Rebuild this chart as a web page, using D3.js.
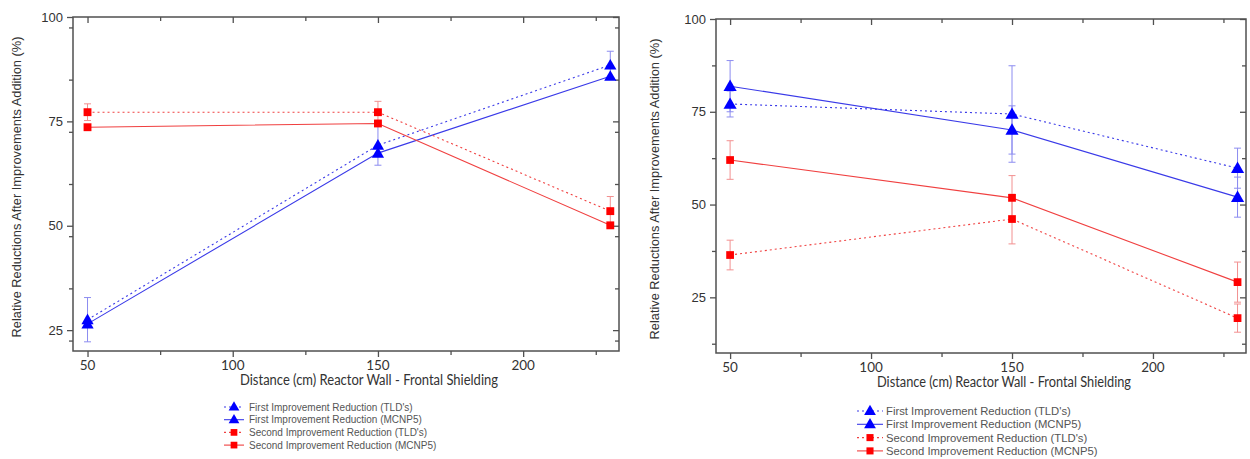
<!DOCTYPE html>
<html><head><meta charset="utf-8">
<script src="https://cdn.jsdelivr.net/npm/d3@7"></script>
<style>body{margin:0;background:#fff}svg{display:block}</style>
</head><body>
<svg id="c" width="1250" height="459"></svg>
<script>
// ---- data ----
const distances = [50, 150, 230];
const xTicks = [50, 100, 150, 200];
const seriesNames = ["First Improvement Reduction (TLD's)", "First Improvement Reduction (MCNP5)", "Second Improvement Reduction (TLD's)", "Second Improvement Reduction (MCNP5)"];
const yTitle = "Relative Reductions After Improvements Addition (%)";
const xTitle = "Distance (cm) Reactor Wall - Frontal Shielding";

// left chart
const leftFirstTLD = [27.5, 69.3, 88.5];
const leftFirstTLDErr = [5.3, 4.8, 3.3];
const leftFirstMCNP = [26.5, 67.4, 85.8];
const leftSecondTLD = [77.2, 77.2, 53.5];
const leftSecondTLDErr = [2.0, 2.6, 3.5];
const leftSecondMCNP = [73.6, 74.5, 50.1];
const leftYTicks = [25, 50, 75, 100];

// right chart
const rightFirstTLD = [77.1, 74.4, 59.8];
const rightFirstTLDErr = [3.5, 13.0, 5.4];
const rightFirstMCNP = [81.9, 70.1, 52.0];
const rightFirstMCNPErr = [6.9, 6.5, 5.4];
const rightSecondTLD = [36.4, 46.1, 19.4];
const rightSecondTLDErr = [4.0, 6.7, 3.8];
const rightSecondMCNP = [62.0, 51.8, 29.1];
const rightSecondMCNPErr = [5.2, 6.0, 5.4];
const rightYTicks = [25, 50, 75, 100];

const svg = d3.select("#c");
const BLUE = "#0000ff", RED = "#ff0000";

function drawChart(o) {
  const g = svg.append("g");
  const x = d3.scaleLinear().domain([45, 233]).range([o.x0, o.x1]);
  const y = d3.scaleLinear().domain(o.yDom).range([o.y1, o.y0]);
  const axCol = "#505050";
  g.append("rect").attr("x", o.x0).attr("y", o.y0).attr("width", o.x1 - o.x0).attr("height", o.y1 - o.y0)
    .attr("fill", "none").attr("stroke", axCol).attr("stroke-width", 1.5);
  const xMinor = [75, 125, 175, 225];
  const yMinor = d3.range(o.yDom[0] + 2.5, 100, 12.5).filter(v => v % 25 !== 0);
  const styl = s => { s.select(".domain").remove(); s.selectAll("line").attr("stroke", axCol).attr("stroke-width", 1.3); };
  g.append("g").attr("transform", `translate(0,${o.y1})`).call(d3.axisBottom(x).tickValues(xTicks).tickSize(6).tickFormat("")).call(styl);
  g.append("g").attr("transform", `translate(0,${o.y1})`).call(d3.axisBottom(x).tickValues(xMinor).tickSize(4).tickFormat("")).call(styl);
  g.append("g").attr("transform", `translate(0,${o.y0})`).call(d3.axisBottom(x).tickValues(xTicks).tickSize(6).tickFormat("")).call(styl);
  g.append("g").attr("transform", `translate(0,${o.y0})`).call(d3.axisBottom(x).tickValues(xMinor).tickSize(4).tickFormat("")).call(styl);
  g.selectAll(".xl").data(xTicks).join("text").attr("x", d => x(d)).attr("y", o.y1 + 19)
    .attr("text-anchor", "middle").attr("font-family", "Lato, 'Open Sans', sans-serif").attr("font-size", 13.5).attr("fill", "#333").text(d => d);
  g.append("g").attr("transform", `translate(${o.x0},0)`).call(d3.axisLeft(y).tickValues(o.yTicks).tickSize(6).tickFormat("")).call(styl);
  g.append("g").attr("transform", `translate(${o.x0},0)`).call(d3.axisLeft(y).tickValues(yMinor).tickSize(4).tickFormat("")).call(styl);
  g.append("g").attr("transform", `translate(${o.x1},0)`).call(d3.axisLeft(y).tickValues(o.yTicks).tickSize(6).tickFormat("")).call(styl);
  g.append("g").attr("transform", `translate(${o.x1},0)`).call(d3.axisLeft(y).tickValues(yMinor).tickSize(4).tickFormat("")).call(styl);
  g.selectAll(".yl").data(o.yTicks).join("text").attr("x", o.x0 - 10).attr("y", d => y(d) + 4.5)
    .attr("text-anchor", "end").attr("font-family", "'Liberation Sans', Arial, sans-serif").attr("font-size", 13).attr("fill", "#333").text(d => d);
  g.append("text").attr("transform", `translate(${o.yTitleX},${(o.y0 + o.y1) / 2 + 3}) rotate(-90)`)
    .attr("text-anchor", "middle").attr("font-family", "'Liberation Sans', Arial, sans-serif").attr("font-size", 12.8).attr("fill", "#333").text(yTitle);
  g.append("text").attr("x", o.xTitleX).attr("y", o.y1 + 34).attr("text-anchor", "middle")
    .attr("font-family", "Lato, 'Open Sans', sans-serif").attr("font-size", 14.5).attr("fill", "#333")
    .attr("textLength", o.xTitleW).attr("lengthAdjust", "spacingAndGlyphs").text(xTitle);

  const line = d3.line().x((d, i) => x(distances[i])).y(d => y(d));
  const tri = d3.symbol().type(d3.symbolTriangle).size(o.triSize);
  const sq = d3.symbol().type(d3.symbolSquare).size(o.sqSize);

  o.series.forEach(s => {
    g.append("path").attr("d", line(s.values)).attr("fill", "none").attr("stroke", s.lineColor)
      .attr("stroke-width", 1.1).attr("stroke-dasharray", s.dotted ? "2,3" : null);
  });
  o.series.forEach(s => {
    if (!s.err) return;
    s.values.forEach((v, i) => {
      const cx = x(distances[i]), lo = y(v - s.err[i]), hi = y(v + s.err[i]);
      g.append("line").attr("x1", cx).attr("x2", cx).attr("y1", lo).attr("y2", hi).attr("stroke", s.errColor).attr("stroke-width", 1);
      [lo, hi].forEach(yy => g.append("line").attr("x1", cx - 3.5).attr("x2", cx + 3.5).attr("y1", yy).attr("y2", yy).attr("stroke", s.errColor).attr("stroke-width", 1));
    });
  });
  o.series.forEach(s => {
    s.values.forEach((v, i) => {
      g.append("path").attr("d", s.shape === "tri" ? tri() : sq())
        .attr("transform", `translate(${x(distances[i])},${y(v) + (s.shape === "tri" ? 1 : 0)})`).attr("fill", s.color);
    });
  });
  o.series.forEach((s, i) => {
    const ly = o.legY + i * o.legDy;
    g.append("line").attr("x1", o.legX0).attr("x2", o.legX1).attr("y1", ly).attr("y2", ly).attr("stroke", s.lineColor)
      .attr("stroke-width", 1.1).attr("stroke-dasharray", s.dotted ? "2,3" : null);
    const m = (o.legX0 + o.legX1) / 2;
    g.append("path").attr("d", s.shape === "tri" ? d3.symbol().type(d3.symbolTriangle).size(o.legTri)() : d3.symbol().type(d3.symbolSquare).size(o.legSq)())
      .attr("transform", `translate(${m},${ly + (s.shape === "tri" ? 0.5 : 0)})`).attr("fill", s.color);
    g.append("text").attr("x", o.legTx).attr("y", ly + o.legFs * 0.36).attr("font-family", "'Liberation Sans', Arial, sans-serif")
      .attr("font-size", o.legFs).attr("fill", "#555").text(s.name);
  });
}

drawChart({
  x0: 73, x1: 619, y0: 17, y1: 351, yDom: [20, 100], yTicks: leftYTicks,
  yTitleX: 21, xTitleX: 369, xTitleW: 258, triSize: 65, sqSize: 62,
  legX0: 224, legX1: 244, legTx: 249, legY: 407, legDy: 12.7, legFs: 10, legTri: 50, legSq: 45,
  series: [
    { name: seriesNames[0], values: leftFirstTLD, err: leftFirstTLDErr, color: BLUE, lineColor: "#3a3ae8", errColor: "#8c8cf0", dotted: true, shape: "tri" },
    { name: seriesNames[1], values: leftFirstMCNP, err: null, color: BLUE, lineColor: "#3a3ae8", errColor: "#8c8cf0", dotted: false, shape: "tri" },
    { name: seriesNames[2], values: leftSecondTLD, err: leftSecondTLDErr, color: RED, lineColor: "#f04040", errColor: "#f29090", dotted: true, shape: "sq" },
    { name: seriesNames[3], values: leftSecondMCNP, err: null, color: RED, lineColor: "#f04040", errColor: "#f29090", dotted: false, shape: "sq" }
  ]
});

drawChart({
  x0: 716, x1: 1246, y0: 19, y1: 353, yDom: [10, 100], yTicks: rightYTicks,
  yTitleX: 659, xTitleX: 1004, xTitleW: 254, triSize: 75, sqSize: 60,
  legX0: 857, legX1: 883, legTx: 886, legY: 411, legDy: 13.3, legFs: 11.3, legTri: 60, legSq: 50,
  series: [
    { name: seriesNames[0], values: rightFirstTLD, err: rightFirstTLDErr, color: BLUE, lineColor: "#3a3ae8", errColor: "#8c8cf0", dotted: true, shape: "tri" },
    { name: seriesNames[1], values: rightFirstMCNP, err: rightFirstMCNPErr, color: BLUE, lineColor: "#3a3ae8", errColor: "#8c8cf0", dotted: false, shape: "tri" },
    { name: seriesNames[2], values: rightSecondTLD, err: rightSecondTLDErr, color: RED, lineColor: "#f04040", errColor: "#f29090", dotted: true, shape: "sq" },
    { name: seriesNames[3], values: rightSecondMCNP, err: rightSecondMCNPErr, color: RED, lineColor: "#f04040", errColor: "#f29090", dotted: false, shape: "sq" }
  ]
});
</script>
</body></html>
